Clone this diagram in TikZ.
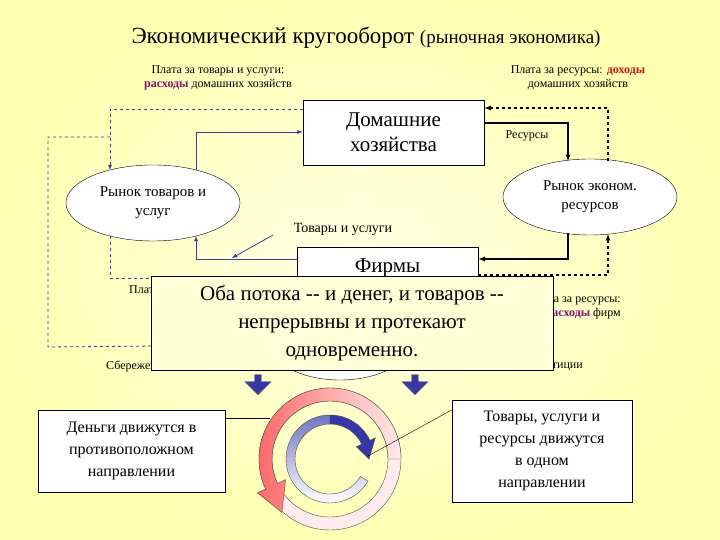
\documentclass[tikz,border=0pt]{standalone}
\usepackage{fontspec}
\setmainfont{Liberation Serif}
\newfontfamily\rus{Liberation Serif}
\usetikzlibrary{shapes.geometric,shapes.arrows,calc}
\definecolor{bl}{RGB}{55,55,165}
\definecolor{pur}{RGB}{130,20,110}
\definecolor{rd}{RGB}{200,20,20}
\definecolor{callf}{RGB}{255,255,215}
\tikzset{
  lbl/.style={font=\rus\fontsize{12}{14}\selectfont, align=center, inner sep=1pt},
  boxn/.style={draw, fill=white, thick},
  ell/.style={draw, ellipse, fill=white, minimum width=174pt, minimum height=76pt, font=\rus\fontsize{15}{19}\selectfont, align=center},
  bsol/.style={bl, thick, -latex},
  bdash/.style={bl, thick, dashed, -latex},
  ksol/.style={black, very thick, -latex},
  kdash/.style={black, very thick, dashed, -latex},
  downar/.style={single arrow, draw=black!60, fill=bl, minimum width=26pt, single arrow head extend=6pt, minimum height=20pt, shape border rotate=270, inner sep=2pt},
}
\begin{document}
\begin{tikzpicture}[x=1pt,y=1pt]
\shade[inner color=white!90!yellow, outer color=yellow!30!white] (0,0) rectangle (720,540);
\useasboundingbox (0,0) rectangle (720,540);
% title
\node (title) at (366,502) {\rus\fontsize{23}{26}\selectfont Экономический кругооборот \fontsize{19}{22}\selectfont(рыночная экономика)};
\node[lbl] (tl) at (218,462) {Плата за товары и услуги:\\\textcolor{pur}{\textbf{расходы}} домашних хозяйств};
\node[lbl] (tr) at (578,462) {Плата за ресурсы: \textcolor{rd}{\textbf{доходы}}\\домашних хозяйств};
% nodes
\node[boxn, minimum width=181pt, minimum height=65pt, align=center, font=\rus\fontsize{21}{25}\selectfont] (hh) at (393.5,407.5) {Домашние\\хозяйства};
\node[ell] (gm) at (153,337) {Рынок товаров и\\услуг};
\node[ell] (rm) at (590,343) {Рынок эконом.\\ресурсов};
\node[boxn, minimum width=181pt, minimum height=70pt] (fm) at (387.5,258) {};
\node[font=\rus\fontsize{21}{25}\selectfont] (fmt) at (387.5,272) {Фирмы};
\node[draw, ellipse, fill=white, minimum width=136pt, minimum height=70pt] (fin) at (340,195) {};
% connectors
\coordinate (a1) at (110,431); \coordinate (a2) at (110,370);
\draw[bdash] (hh.west |- a1) -- (a1) -- (a2);
\coordinate (b1) at (196,370); \coordinate (b2) at (196,408);
\draw[bsol] (b1) -- (b2) -- (hh.west |- b2);
\coordinate (c1) at (48,403); \coordinate (c2) at (48,193);
\draw[bl, thick, dashed] (110,403) -- (c1) -- (c2) -- (fin.west);
\coordinate (d1) at (110,304); \coordinate (d2) at (110,262);
\draw[bdash] (d1) -- (d2) -- (fm.west |- d2);
\coordinate (e1) at (196,281); \coordinate (e2) at (196,304);
\draw[bsol] (fm.west |- e1) -- (e1) -- (e2);
\node[lbl, font=\rus\fontsize{14}{16}\selectfont] (gs) at (343,311) {Товары и услуги};
\coordinate (gp) at (232,282);
\draw[bl, thick, -latex] (273,305) -- (gp);
\coordinate (f1) at (568,417); \coordinate (f2) at (568,379);
\draw[ksol] (hh.east |- f1) -- (f1) -- (f2);
\node[lbl] (res) at (527,404) {Ресурсы};
\coordinate (g1) at (608,379); \coordinate (g2) at (608,432);
\draw[kdash] (g1) -- (g2) -- (hh.east |- g2);
\coordinate (h1) at (568,307); \coordinate (h2) at (568,281);
\draw[ksol] (h1) -- (h2) -- (fm.east |- h2);
\coordinate (i1) at (608,265); \coordinate (i2) at (608,306);
\draw[kdash] (fm.east |- i1) -- (i1) -- (i2);
\node[lbl, anchor=west] (pl) at (128,249) {Плата за товары и услуги:};
\node[lbl] (pl2) at (215,230) {\textcolor{pur}{\textbf{доходы}} фирм};
\node[lbl, anchor=east, align=right] (pr) at (622,233) {Плата за ресурсы:\\\textcolor{pur}{\textbf{расходы}} фирм};
\node[lbl, anchor=west] (sav) at (105,174) {Сбережения};
\node[lbl, anchor=east] (inv) at (584,174) {Частные инвестиции};
% callout
\node[draw, fill=callf, minimum width=402pt, minimum height=94pt, align=center, font=\rus\fontsize{21}{28}\selectfont] (call) at (352,217) {Оба потока -- и денег, и товаров --\\непрерывны и протекают\\одновременно.};
% down arrows
\node[downar] (da1) at (258,157) {};
\node[downar] (da2) at (415,157) {};
% bottom boxes
\node[boxn, minimum width=187pt, minimum height=82pt, align=center, font=\rus\fontsize{16}{22}\selectfont] (lb) at (131.5,89) {Деньги движутся в\\противоположном\\направлении};
\node[boxn, minimum width=180pt, minimum height=102pt, align=center, font=\rus\fontsize{16}{22}\selectfont] (rb) at (542,89) {Товары, услуги и\\ресурсы движутся\\в одном\\направлении};
% rings
\coordinate (C) at (330,81);
\fill[red!8, draw=black!70, even odd rule] (C) circle (71) (C) circle (58);
\shade[left color=red!60, right color=red!8, draw=black!70]
  ($(C)+(0:71)$) arc[start angle=0,end angle=205,radius=71]
  -- ($(C)+(205:80)$) -- ($(C)+(228:72)$) -- ($(C)+(205:49)$) -- ($(C)+(205:58)$)
  arc[start angle=205,end angle=0,radius=58] -- cycle;
\shade[top color=bl!70, bottom color=white, draw=black!70]
  ($(C)+(90:44)$) arc[start angle=90,end angle=330,radius=44]
  -- ($(C)+(330:35)$) arc[start angle=330,end angle=90,radius=35] -- cycle;
\fill[bl, draw=black!70]
  ($(C)+(90:44)$) arc[start angle=90,end angle=25,radius=44]
  -- ($(C)+(25:50)$) -- ($(C)+(0:39)$) -- ($(C)+(25:29)$) -- ($(C)+(25:35)$)
  arc[start angle=25,end angle=90,radius=35] -- cycle;
\coordinate (lr) at (270,122);
\draw (lb.east |- lr) -- (lr);
\coordinate (rr) at (368,84);
\draw (rb.west |- 0,130) -- (rr);
\end{tikzpicture}
\end{document}
